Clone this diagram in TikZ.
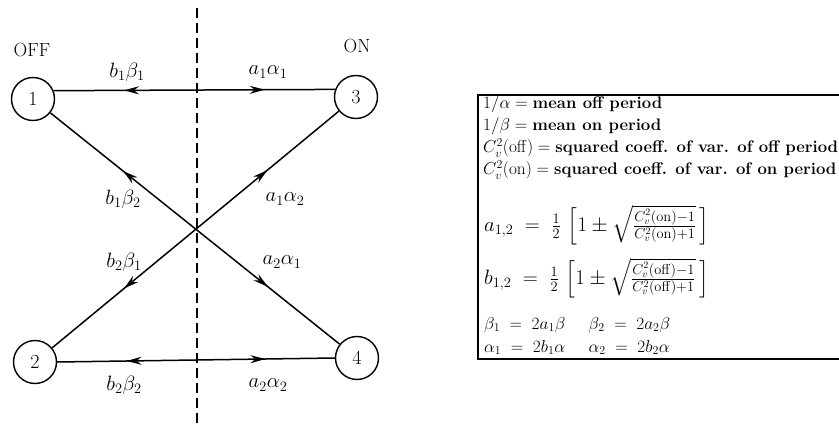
\documentclass[tikz,border=0pt]{standalone}
\usepackage{amsmath}
\usetikzlibrary{arrows.meta,decorations.markings,calc}
\tikzset{
 state/.style={circle,draw,line width=1.4pt,minimum size=43pt,inner sep=0pt,font=\fontsize{20}{23}\selectfont},
 trans/.style={line width=1.5pt, postaction={decorate}, decoration={markings, mark=at position 0.5 with {\arrow{Stealth[length=15pt,width=8pt,inset=5pt]}}}},
 lab/.style={font=\fontsize{21}{24}\selectfont, inner sep=0pt},
 side/.style={font=\fontsize{19}{22}\selectfont, inner sep=0pt},
 boxtxt/.style={anchor=base west, font=\fontsize{16.7}{20}\selectfont, inner sep=0pt},
 reltxt/.style={anchor=base west, font=\fontsize{18.5}{22}\selectfont, inner sep=0pt},
 eqtxt/.style={anchor=west, font=\fontsize{19.5}{24}\selectfont, inner sep=0pt},
 divider/.style={line width=1.3pt, dash pattern=on 10pt off 5pt},
 frame/.style={line width=1.3pt},
}
\begin{document}
\begin{tikzpicture}[x=1pt,y=-1pt]
\useasboundingbox (0,0) rectangle (839,428);
% states
\node[state] (n1) at (33,99) {1};
\node[state] (n3) at (356,97) {3};
\node[state] (n2) at (35,362) {2};
\node[state] (n4) at (357,358) {4};
\node[side] (off) at (32,50) {OFF};
\node[side] (on) at (357,46) {ON};
% divider
\coordinate (dtop) at (197,8);
\coordinate (dbot) at (197,427);
\draw[divider] (dtop) -- (dbot);
% junction points
\coordinate (T) at ($(n1.22)!0.5!(n3.160)$);
\coordinate (B) at ($(n2.east)!0.5!(n4.west)$);
\coordinate (X) at (intersection of n1--n4 and n3--n2);
% transitions
\draw[trans] (T) -- (n1.22);
\draw[trans] (T) -- (n3.160);
\draw[trans] (B) -- (n2.east);
\draw[trans] (B) -- (n4.west);
\draw[trans] (X) -- (n1);
\draw[trans] (X) -- (n3);
\draw[trans] (X) -- (n2);
\draw[trans] (X) -- (n4);
% labels
\node[lab] (l1) at (127,72) {$b_1\beta_1$};
\node[lab] (l2) at (268,72) {$a_1\alpha_1$};
\node[lab] (l3) at (123,199) {$b_1\beta_2$};
\node[lab] (l4) at (285,199) {$a_1\alpha_2$};
\node[lab] (l5) at (124,262) {$b_2\beta_1$};
\node[lab] (l6) at (282,262) {$a_2\alpha_1$};
\node[lab] (l7) at (124,385) {$b_2\beta_2$};
\node[lab] (l8) at (268,385) {$a_2\alpha_2$};
% legend box
\coordinate (bxTR) at (839,95);
\coordinate (bxTL) at (478,95);
\coordinate (bxBL) at (478,359);
\coordinate (bxBR) at (839,359);
\draw[frame] (bxTR) -- (bxTL) -- (bxBL) -- (bxBR);
\node[boxtxt] (t1) at (483,109) {$1/\alpha =$ \textbf{mean off period}};
\node[boxtxt] (t2) at (483,131) {$1/\beta =$ \textbf{mean on period}};
\node[boxtxt] (t3) at (483,153) {$C_v^2(\mathrm{off}) =$ \textbf{squared coeff. of var. of off period}};
\node[boxtxt] (t4) at (483,175) {$C_v^2(\mathrm{on}) =$ \textbf{squared coeff. of var. of on period}};
\node[eqtxt] (t5) at (484,225) {$a_{1,2} \;=\; \tfrac{1}{2}\,\left[1 \pm \sqrt{\tfrac{C_v^2(\mathrm{on})-1}{C_v^2(\mathrm{on})+1}}\,\right]$};
\node[eqtxt] (t6) at (484,278) {$b_{1,2} \;=\; \tfrac{1}{2}\,\left[1 \pm \sqrt{\tfrac{C_v^2(\mathrm{off})-1}{C_v^2(\mathrm{off})+1}}\,\right]$};
\node[reltxt] (t7) at (484,329) {$\beta_1 \;=\; 2a_1\beta \quad\; \beta_2 \;=\; 2a_2\beta$};
\node[reltxt] (t8) at (484,352) {$\alpha_1 \;=\; 2b_1\alpha \quad\; \alpha_2 \;=\; 2b_2\alpha$};
\end{tikzpicture}
\end{document}
